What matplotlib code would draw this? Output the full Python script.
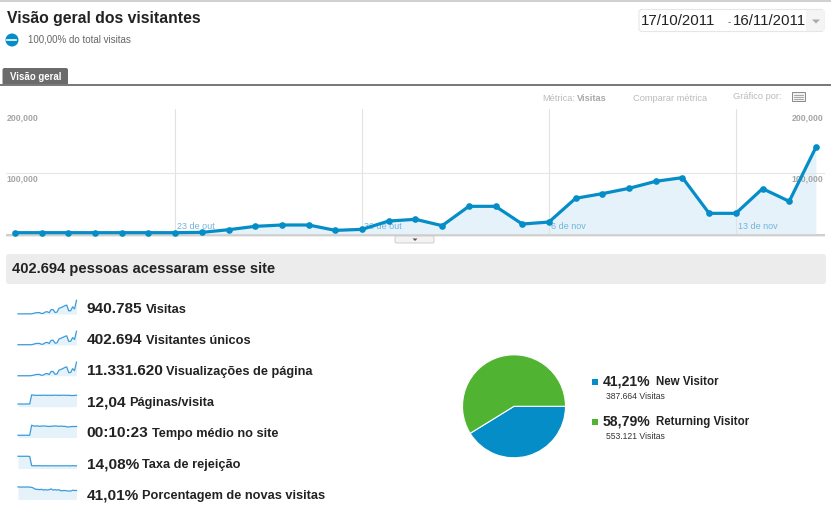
import matplotlib
matplotlib.use("Agg")
import matplotlib.pyplot as plt
from matplotlib.patches import Rectangle, FancyBboxPatch, Circle, Polygon

plt.rcParams['font.family'] = ['Liberation Sans', 'DejaVu Sans']

W, H = 831, 518

# daily visits 17/10/2011 .. 16/11/2011
days = list(range(31))
visits = [1700, 1700, 1700, 1700, 1700, 1700, 1700, 2200, 6600, 12200,
          14400, 14400, 5500, 7200, 21000, 23800, 13300, 45300, 45300, 16000,
          19300, 58600, 66300, 75100, 86700, 92800, 33700, 33700, 74600, 53600,
          143000]
date_ticks = [6, 13, 20, 27]
date_labels = ['23 de out', '30 de out', '6 de nov', '13 de nov']
y_ticks = [100000, 200000]
y_labels = ['100,000', '200,000']

# sparklines
unique_visitors = [800, 800, 800, 800, 800, 800, 800, 1000, 3000, 5500,
                   6400, 6300, 2600, 3300, 9400, 10600, 6000, 19500, 19800, 7300,
                   8700, 24800, 28100, 31500, 36100, 38400, 15200, 15100, 31200, 23100,
                   58000]
pageviews = [5100, 5000, 5200, 4900, 5100, 5000, 5100, 28000, 85000, 158000,
             186000, 183000, 70000, 93000, 272000, 305000, 171000, 585000, 580000, 205000,
             250000, 760000, 858000, 970000, 1120000, 1200000, 435000, 436000, 965000, 690000,
             1850000]
pages_per_visit = [3.0, 3.1, 2.9, 3.0, 3.0, 3.1, 3.0, 13.4, 13.0, 12.9,
                   12.8, 12.9, 12.8, 12.9, 13.0, 12.8, 12.9, 12.8, 12.9, 13.0,
                   12.9, 12.8, 12.9, 13.0, 12.9, 12.8, 12.9, 12.6, 12.6, 12.8, 12.9]
avg_time_sec = [130, 128, 132, 130, 131, 129, 130, 690, 650, 640,
                655, 625, 640, 650, 640, 630, 620, 632, 640, 650,
                640, 630, 640, 625, 630, 600, 590, 610, 620, 615, 622]
bounce_rate = [55, 55, 55, 55, 55, 55, 54, 13, 12, 12.5,
               12, 13, 12, 12, 12.5, 12, 12, 12.5, 12, 12,
               12, 12.5, 12, 12, 12, 12.5, 12, 11.5, 13, 12, 12]
new_visits_pct = [50, 50, 49.5, 50, 49.5, 50, 49.5, 49, 47, 44,
                  44, 43, 44, 42, 43, 42, 43, 45, 42, 43,
                  42, 43, 40, 40.5, 41, 40, 39.5, 39.5, 41.5, 41, 41]

metric_values = ['940.785', '402.694', '11.331.620', '12,04', '00:10:23', '14,08%', '41,01%']
metric_labels = ['Visitas', 'Visitantes únicos', 'Visualizações de página', 'Páginas/visita',
                 'Tempo médio no site', 'Taxa de rejeição', 'Porcentagem de novas visitas']

visitor_types = ['New Visitor', 'Returning Visitor']
visitor_visits = [387664, 553121]
visitor_pct = ['41,21%', '58,79%']
visitor_counts = ['387.664 Visitas', '553.121 Visitas']

BLUE = '#058dc7'
GREEN = '#50b432'
FILL = '#e5f2fa'
TXT = '#222222'

fig = plt.figure(figsize=(W / 100, H / 100), dpi=100)
fig.patch.set_facecolor('white')


def px_axes(x0, y0, x1, y1):
    return fig.add_axes([x0 / W, 1 - y1 / H, (x1 - x0) / W, (y1 - y0) / H])


# background layer in pixel coordinates
bg = fig.add_axes([0, 0, 1, 1])
bg.set_xlim(0, W)
bg.set_ylim(H, 0)
bg.axis('off')

bg.add_patch(Rectangle((0, 0), W, 1.5, color='#d0d0d0', lw=0))
bg.text(7, 18, 'Visão geral dos visitantes', fontsize=11.3, fontweight='bold',
        color=TXT, va='center')
bg.add_patch(Circle((12, 40), 6.5, color=BLUE, lw=0))
bg.plot([7, 15.5], [40, 40], color='white', lw=1.2)
bg.text(28, 40, '100,00% do total visitas', fontsize=7, color='#666666', va='center')

# date range box
bg.add_patch(FancyBboxPatch((639, 9.5), 185, 22, boxstyle='round,pad=0,rounding_size=3',
                            fc='white', ec='#e6e6e6', lw=0.8))
bg.add_patch(Rectangle((806, 10), 18, 21, fc='#f4f4f4', lw=0))
bg.add_patch(Polygon([[812, 19.5], [820, 19.5], [816, 23.5]], closed=True, fc='#aaaaaa', lw=0))
bg.text(641, 21, '17/10/2011', fontsize=10.8, color=TXT, va='center')
bg.text(729, 22.5, '-', fontsize=7, color='#555555', va='center', ha='center')
bg.text(806, 21, '16/11/2011', fontsize=10.8, color=TXT, va='center', ha='right')

# tab
bg.add_patch(FancyBboxPatch((2.5, 68), 65.5, 17, boxstyle='round,pad=0,rounding_size=2',
                            fc='#6b6b6b', lw=0))
bg.text(10, 76.5, 'Visão geral', fontsize=6.9, fontweight='bold', color='white', va='center')
bg.add_patch(Rectangle((0, 84), W, 2, color='#7a7a7a', lw=0))

t = bg.text(542, 98.3, 'Métrica:', fontsize=6.7, color='#bbbbbb', va='center')
renderer = fig.canvas.get_renderer()


def after(txt, gap):
    return txt.get_window_extent(renderer).x1 + gap


bg.text(after(t, 2), 98.3, 'Visitas', fontsize=6.7, color='#a8a8a8', fontweight='bold', va='center')
bg.text(633, 98.3, 'Comparar métrica', fontsize=6.7, color='#bbbbbb', va='center')
bg.text(733, 96.7, 'Gráfico por:', fontsize=6.7, color='#bbbbbb', va='center')
bg.add_patch(Rectangle((792, 92), 13, 8.5, fc='#f0f0f0', ec='#8a8a8a', lw=0.7))
for yy in (94.5, 96.5, 98.5):
    bg.plot([794, 803], [yy, yy], color='#8a8a8a', lw=0.5)

# bottom of main chart
bg.add_patch(Rectangle((6, 234), 819, 2.2, color='#cfcfcf', lw=0))
bg.add_patch(Rectangle((6, 236.2), 819, 1.2, color='#ececec', lw=0))
bg.add_patch(FancyBboxPatch((395, 236), 39, 7, boxstyle='round,pad=0,rounding_size=1.5',
                            fc='#f3f3f3', ec='#cccccc', lw=0.7))
bg.add_patch(Polygon([[412.5, 238.5], [417.5, 238.5], [415, 241]], closed=True, fc='#555555', lw=0))

# summary band
bg.add_patch(FancyBboxPatch((6, 254), 820, 30, boxstyle='round,pad=0,rounding_size=3',
                            fc='#ececec', lw=0))
bg.text(12, 269.3, '402.694 pessoas acessaram esse site', fontsize=10.5,
        fontweight='bold', color=TXT, va='center')

# main chart
ax = px_axes(6, 109, 825, 234)
ax.set_facecolor('none')
ax.set_xlim(-0.337, 30.34)
ax.set_ylim(-500, 206400)
for s in ax.spines.values():
    s.set_visible(False)
ax.set_xticks([])
ax.set_yticks([])
ax.fill_between(days, visits, 0, color=FILL, lw=0, zorder=1)
for d in date_ticks:
    ax.axvline(d, color='#e2e2e2', lw=0.8, zorder=1.5)
ax.axhline(y_ticks[0], color='#e6e6e6', lw=0.8, zorder=1.5)
for d, lab in zip(date_ticks, date_labels):
    ax.annotate(lab, (d, 0), xytext=(1.5, 5), textcoords='offset points',
                fontsize=6.5, color='#72b3da', va='center', ha='left', zorder=2)
for v, lab in zip(y_ticks, y_labels):
    ax.annotate(lab, (0.0012, v), xycoords=ax.get_yaxis_transform(), xytext=(0, -4),
                textcoords='offset points', fontsize=6.3, color='#a5a5a5',
                fontweight='bold', va='center', ha='left', zorder=2)
    ax.annotate(lab, (0.9976, v), xycoords=ax.get_yaxis_transform(), xytext=(0, -4),
                textcoords='offset points', fontsize=6.3, color='#a5a5a5',
                fontweight='bold', va='center', ha='right', zorder=2)
ax.plot(days, visits, color=BLUE, lw=2.3, marker='o', ms=4.8, mew=0,
        zorder=4, clip_on=False)

# metric rows with sparklines
spark_series = [visits, unique_visitors, pageviews, pages_per_visit,
                avg_time_sec, bounce_rate, new_visits_pct]
spark_ylim = [(0, 146000), (0, 59500), (0, 1890000), (0, 15.8), (0, 780), (0, 63), (18, 54)]
for i, (series, lim) in enumerate(zip(spark_series, spark_ylim)):
    top = 300 + 30.9 * i
    sax = px_axes(18, top, 76.5, top + 14)
    sax.set_facecolor('none')
    sax.axis('off')
    sax.set_xlim(0, 30)
    sax.set_ylim(*lim)
    sax.fill_between(days, series, lim[0], color=FILL, lw=0)
    sax.plot(days, series, color='#3b9bd8', lw=0.9, clip_on=False)

    yc = 309.3 + 31 * i
    tv = bg.text(86.5, yc, metric_values[i], fontsize=11.1, fontweight='bold',
                 color=TXT, va='center')
    bg.text(after(tv, 3.5), yc + 0.5, metric_labels[i], fontsize=9.2,
            fontweight='bold', color=TXT, va='center')

# pie
pax = px_axes(462.5, 354.8, 565.5, 457.8)
pax.pie(visitor_visits, colors=[BLUE, GREEN], startangle=0, counterclock=False,
        wedgeprops=dict(edgecolor='white', linewidth=0.8))
pax.set_xlim(-1, 1)
pax.set_ylim(-1, 1)

for i, (name, pct, cnt, col) in enumerate(zip(visitor_types, visitor_pct,
                                               visitor_counts, [BLUE, GREEN])):
    yc = 381.7 + 40 * i
    bg.add_patch(Rectangle((591.7, yc - 3), 6, 6, color=col, lw=0))
    tp = bg.text(603, yc, pct, fontsize=10.1, fontweight='bold', color=TXT, va='center')
    bg.text(after(tp, 5), yc + 0.3, name, fontsize=8.3, fontweight='bold',
            color=TXT, va='center')
    bg.text(605.7, yc + 15.2, cnt, fontsize=6.2, color='#333333', va='center')

fig.savefig('out.png', dpi=100)
